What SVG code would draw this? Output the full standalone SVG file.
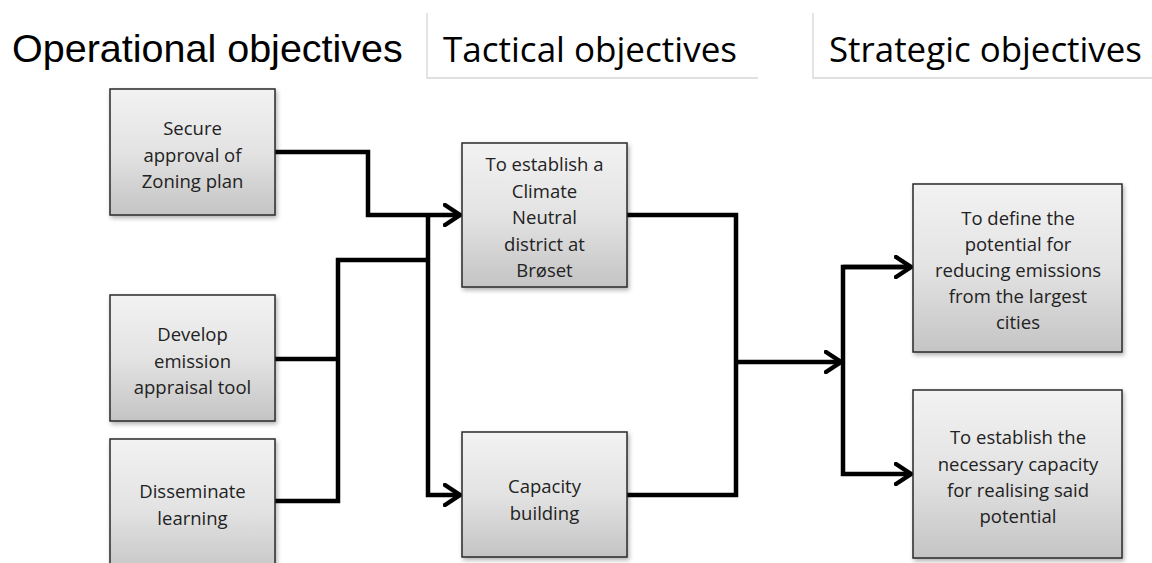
<svg xmlns="http://www.w3.org/2000/svg" width="1152" height="563" viewBox="0 0 1152 563">
<style>
.hd{font-family:"Liberation Sans",Arial,sans-serif;font-size:39.5px;fill:#000}
.hc{font-family:"Open Sans","Noto Sans",sans-serif;font-size:35px;fill:#000}
.sep{fill:none;stroke:#d6d6d6;stroke-width:1.3}
.box{fill:url(#g);stroke:#2a2a2a;stroke-width:1.5;filter:url(#sh)}
.t{font-family:"Open Sans","Noto Sans",sans-serif;font-size:18.5px;fill:#222;text-anchor:middle}
.c{fill:none;stroke:#000;stroke-width:4.5;stroke-linejoin:miter}
</style>
<defs>
<linearGradient id="g" x1="0" y1="0" x2="0" y2="1">
<stop offset="0" stop-color="#f2f2f2"/>
<stop offset="0.5" stop-color="#e3e3e3"/>
<stop offset="1" stop-color="#c4c4c4"/>
</linearGradient>
<filter id="sh" x="-10%" y="-10%" width="125%" height="125%">
<feDropShadow dx="1.5" dy="2.5" stdDeviation="2" flood-color="#000" flood-opacity="0.3"/>
</filter>
<marker id="ar" viewBox="0 0 20 24" refX="17" refY="12" markerWidth="20" markerHeight="24" markerUnits="userSpaceOnUse" orient="auto">
<path d="M2,2 L17,12 L2,22" fill="none" stroke="#000" stroke-width="4.5" stroke-linecap="round" stroke-linejoin="miter"/>
</marker>
</defs>
<rect width="1152" height="563" fill="#fff"/>
<g id="headings">
<text class="hd" x="12" y="62">Operational objectives</text>
<path class="sep" d="M427,13 V78 H758"/>
<text class="hc" x="443" y="62" textLength="294" lengthAdjust="spacingAndGlyphs">Tactical objectives</text>
<path class="sep" d="M813,13 V78 H1152"/>
<text class="hc" x="829" y="62" textLength="313" lengthAdjust="spacingAndGlyphs">Strategic objectives</text>
</g>
<g id="connectors">
<path class="c" d="M275,152 H368 V215 H460" marker-end="url(#ar)"/>
<path class="c" d="M275,359 H338"/>
<path class="c" d="M275,501 H338 V260 H428"/>
<path class="c" d="M428,215 V495 H460" marker-end="url(#ar)"/>
<path class="c" d="M627,215 H736 V495 H627"/>
<path class="c" d="M736,362 H841" marker-end="url(#ar)"/>
<path class="c" d="M911,267 H843 V474 H911" marker-end="url(#ar)"/>
<path class="c" d="M843,267 H911" marker-end="url(#ar)"/>
</g>
<g id="op1">
<rect class="box" x="110" y="89" width="165" height="126"/>
<text class="t"><tspan x="192.5" y="135">Secure</tspan><tspan x="192.5" y="161.5">approval of</tspan><tspan x="192.5" y="188">Zoning plan</tspan></text>
</g>
<g id="op2">
<rect class="box" x="110" y="295" width="165" height="126"/>
<text class="t"><tspan x="192.5" y="341">Develop</tspan><tspan x="192.5" y="367.5">emission</tspan><tspan x="192.5" y="394">appraisal tool</tspan></text>
</g>
<g id="op3">
<rect class="box" x="110" y="439" width="165" height="140"/>
<text class="t"><tspan x="192.5" y="498">Disseminate</tspan><tspan x="192.5" y="525">learning</tspan></text>
</g>
<g id="tac1">
<rect class="box" x="462" y="143" width="165" height="144"/>
<text class="t"><tspan x="544.5" y="171">To establish a</tspan><tspan x="544.5" y="197.5">Climate</tspan><tspan x="544.5" y="224">Neutral</tspan><tspan x="544.5" y="250.5">district at</tspan><tspan x="544.5" y="277">Brøset</tspan></text>
</g>
<g id="tac2">
<rect class="box" x="462" y="432" width="165" height="125"/>
<text class="t"><tspan x="544.5" y="493">Capacity</tspan><tspan x="544.5" y="519.5">building</tspan></text>
</g>
<g id="str1">
<rect class="box" x="913" y="184" width="209" height="168"/>
<text class="t"><tspan x="1018" y="225">To define the</tspan><tspan x="1018" y="251">potential for</tspan><tspan x="1018" y="277">reducing emissions</tspan><tspan x="1018" y="303">from the largest</tspan><tspan x="1018" y="329">cities</tspan></text>
</g>
<g id="str2">
<rect class="box" x="913" y="390" width="209" height="168"/>
<text class="t"><tspan x="1018" y="444">To establish the</tspan><tspan x="1018" y="471">necessary capacity</tspan><tspan x="1018" y="497">for realising said</tspan><tspan x="1018" y="523">potential</tspan></text>
</g>
</svg>
